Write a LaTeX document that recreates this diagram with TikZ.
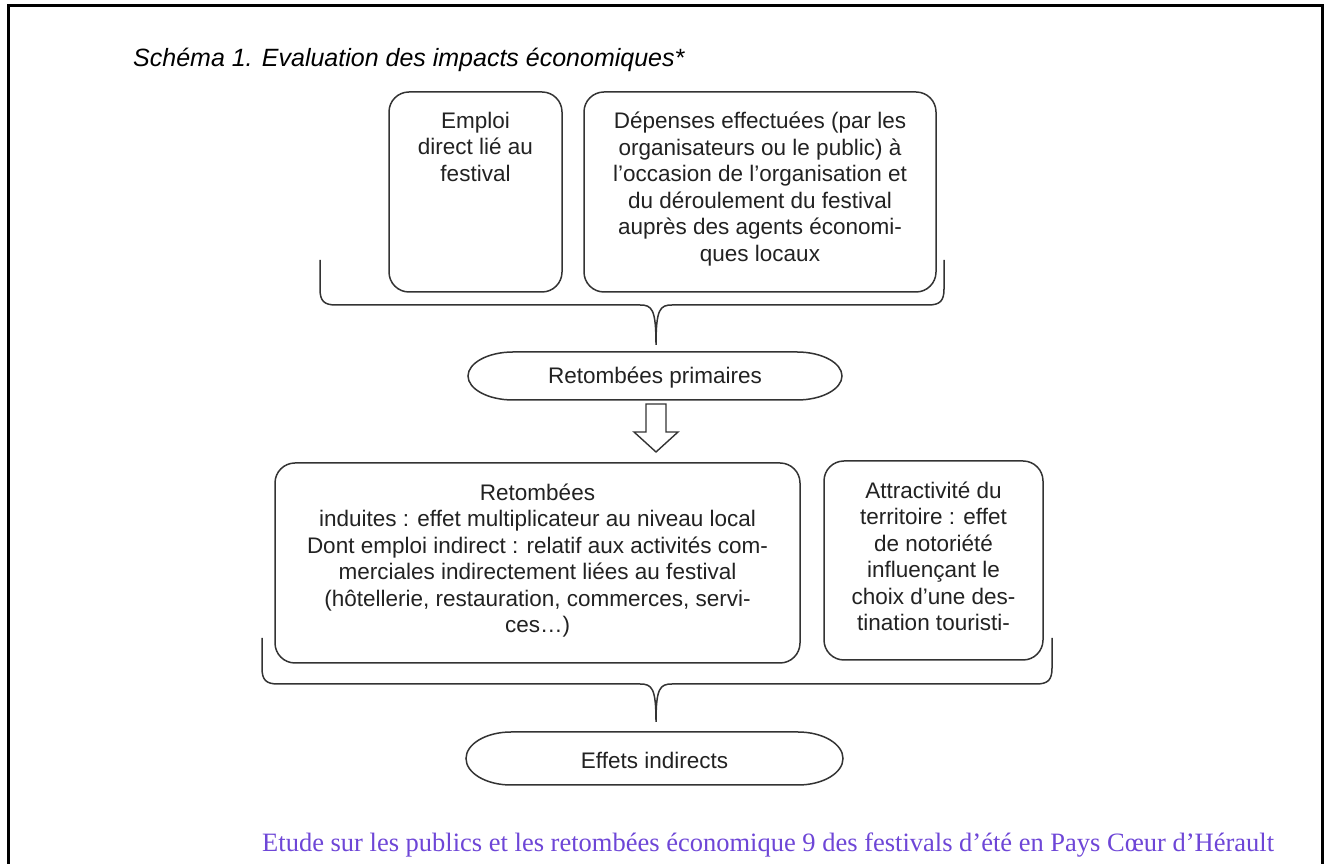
\documentclass[tikz,border=0pt]{standalone}
\usepackage{fontspec}
\setmainfont{Liberation Sans}
\newfontfamily\footserif{Liberation Serif}
\definecolor{ink}{HTML}{222222}
\definecolor{edge}{HTML}{333333}
\definecolor{footc}{RGB}{110,70,215}
\begin{document}
\begin{tikzpicture}[x=1pt,y=1pt,
  box/.style={draw=edge, line width=1.5pt, rounded corners=20pt, inner sep=0pt},
  txt/.style={text=ink, align=center, inner sep=0pt, font=\fontsize{22.5}{26.5}\selectfont},
  brace/.style={draw=edge, line width=1.5pt},
  oval/.style={draw=edge, line width=1.5pt}
]
\useasboundingbox (0,0) rectangle (1330,864);
\fill[white] (0,0) rectangle (1330,864);
% frame
\draw[line width=3pt, black] (8,-5) -- (8,858) -- (1322,858) -- (1322,-5);
% title
\node[anchor=west, inner sep=0pt, text=black, font=\fontsize{25}{28}\selectfont\itshape] (title) at (133,804) {Schéma 1. Evaluation des impacts économiques*};
% upper boxes
\node[box, minimum width=173pt, minimum height=200pt] (emploi) at (475.5,672) {};
\node[txt, anchor=north] (emploit) at ([yshift=-20.5pt]emploi.north) {Emploi\\direct lié au\\festival};
\node[box, minimum width=352pt, minimum height=200pt] (depenses) at (760,672) {};
\node[txt, anchor=north] (depensest) at ([yshift=-20.5pt]depenses.north) {Dépenses effectuées (par les\\organisateurs ou le public) à\\l’occasion de l’organisation et\\du déroulement du festival\\auprès des agents économi-\\ques locaux};
% upper brace
\coordinate (ub) at (656,519);
\draw[brace] (320,604) -- (320,575) .. controls (320,563) and (324,559) .. (336,559) -- (640,559) .. controls (652,559) and (656,555) .. (ub)
  (ub) .. controls (656,555) and (660,559) .. (672,559) -- (928,559) .. controls (940,559) and (944,563) .. (944,575) -- (944,604);
% primary oval
\node[txt, minimum width=374pt, minimum height=48pt] (prim) at (655,486) {Retombées primaires};
\draw[oval] (513,512) -- (797,512) .. controls (822,512) and (842,501) .. (842,488) .. controls (842,475) and (822,464) .. (797,464) -- (513,464) .. controls (488,464) and (468,475) .. (468,488) .. controls (468,501) and (488,512) .. (513,512) -- cycle;
% hollow arrow
\draw[draw=edge, line width=1.4pt, fill=white] (646,460) -- (666,460) -- (666,432) -- (678,432) -- (656,412) -- (634,432) -- (646,432) -- cycle;
% lower boxes
\node[box, minimum width=525pt, minimum height=200pt] (induites) at (537.5,301) {};
\node[txt, anchor=north] (induitest) at ([yshift=-21pt]induites.north) {Retombées\\induites : effet multiplicateur au niveau local\\Dont emploi indirect : relatif aux activités com-\\merciales indirectement liées au festival\\(hôtellerie, restauration, commerces, servi-\\ces…)};
\node[box, minimum width=219pt, minimum height=199pt] (attract) at (933.5,303.5) {};
\node[txt, anchor=north] (attractt) at ([yshift=-21pt]attract.north) {Attractivité du\\territoire : effet\\de notoriété\\influençant le\\choix d’une des-\\tination touristi-};
% lower brace
\coordinate (lb) at (656,142);
\draw[brace] (262,226) -- (262,196) .. controls (262,184) and (266,180) .. (278,180) -- (640,180) .. controls (652,180) and (656,176) .. (lb)
  (lb) .. controls (656,176) and (660,180) .. (672,180) -- (1036,180) .. controls (1048,180) and (1052,184) .. (1052,196) -- (1052,226);
% indirect oval
\node[txt, minimum width=377pt, minimum height=53pt] (effets) at (654.5,103.5) {Effets indirects};
\draw[oval] (511,132) -- (798,132) .. controls (823,132) and (843,120) .. (843,105.5) .. controls (843,91) and (823,79) .. (798,79) -- (511,79) .. controls (486,79) and (466,91) .. (466,105.5) .. controls (466,120) and (486,132) .. (511,132) -- cycle;
% footer
\node[anchor=base west, inner sep=0pt, text=footc, font=\footserif\fontsize{26.5}{30}\selectfont] (footer) at (262,12) {Etude sur les publics et les retombées économique 9 des festivals d’été en Pays Cœur d’Hérault};
\end{tikzpicture}
\end{document}
